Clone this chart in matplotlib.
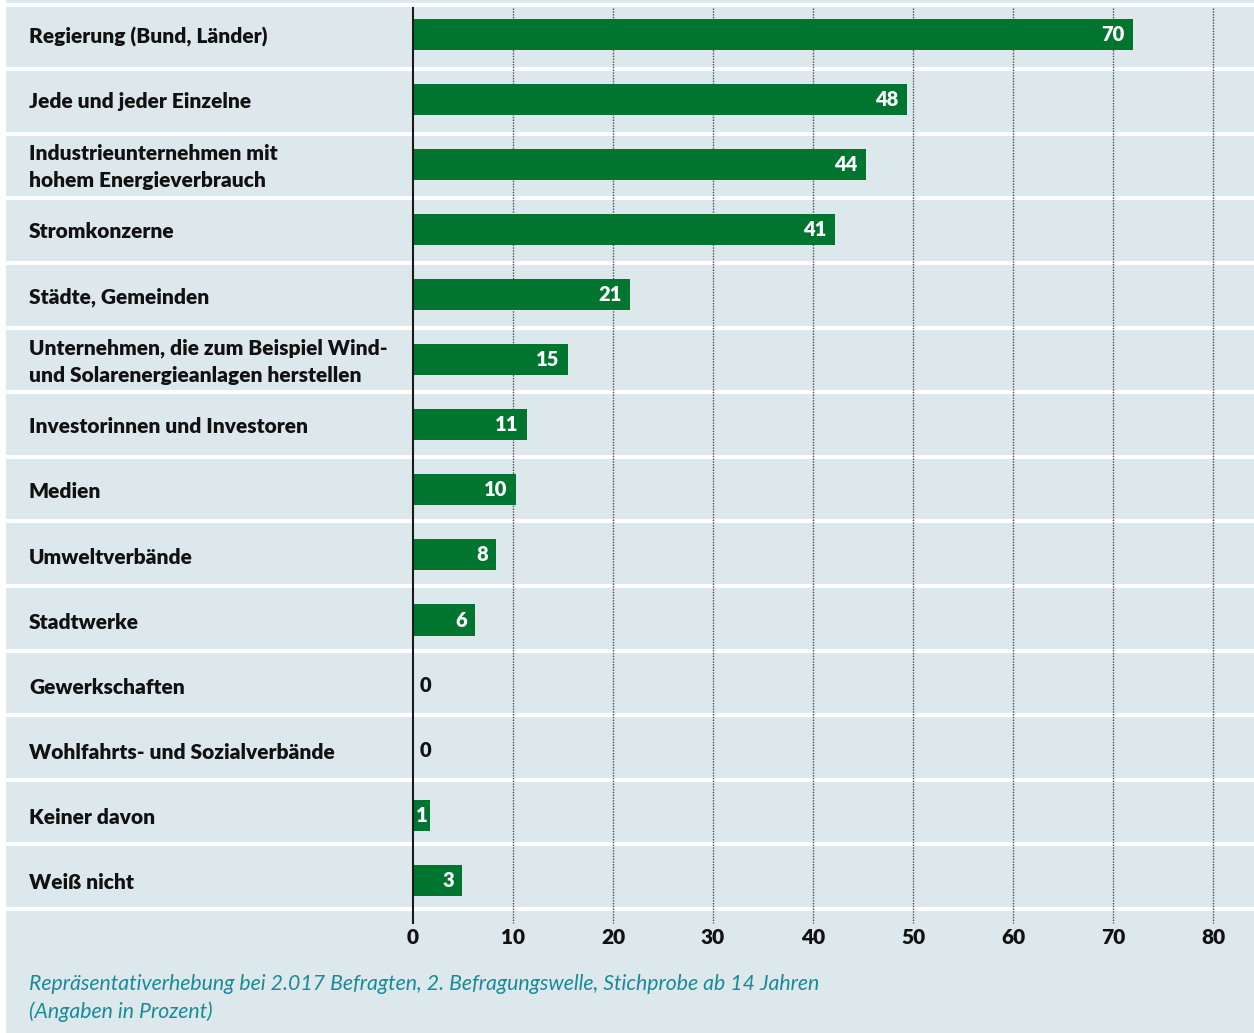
import matplotlib
matplotlib.use("Agg")
import matplotlib.pyplot as plt

categories = [
    "Regierung (Bund, Länder)",
    "Jede und jeder Einzelne",
    "Industrieunternehmen mit\nhohem Energieverbrauch",
    "Stromkonzerne",
    "Städte, Gemeinden",
    "Unternehmen, die zum Beispiel Wind-\nund Solarenergieanlagen herstellen",
    "Investorinnen und Investoren",
    "Medien",
    "Umweltverbände",
    "Stadtwerke",
    "Gewerkschaften",
    "Wohlfahrts- und Sozialverbände",
    "Keiner davon",
    "Weiß nicht",
]
bar_values = [72.0, 49.4, 45.3, 42.2, 21.7, 15.5, 11.4, 10.3, 8.3, 6.2, 0.0, 0.0, 1.7, 4.9]
value_labels = ["70", "48", "44", "41", "21", "15", "11", "10", "8", "6", "0", "0", "1", "3"]
x_ticks = [0, 10, 20, 30, 40, 50, 60, 70, 80]
caption = ("Repräsentativerhebung bei 2.017 Befragten, 2. Befragungswelle, Stichprobe ab 14 Jahren\n"
           "(Angaben in Prozent)")

BG = "#dce8ec"
GREEN = "#007530"
TEAL = "#1a8a96"
FONT = "Lato"
WEIGHT = "heavy"

W, H = 1254, 1033
fig = plt.figure(figsize=(W / 100, H / 100), dpi=100)
fig.patch.set_facecolor(BG)
# small white margin at left
fig.patches.append(plt.Rectangle((0, 0), 6 / W, 1, transform=fig.transFigure,
                                 facecolor="white", edgecolor="none", zorder=-10))

# axes: pixel x 6..1254, pixel y 4.5..908.9
top_px, bot_px = 4.5, 908.9
ax = fig.add_axes([6 / W, 1 - bot_px / H, 1 - 6 / W, (bot_px - top_px) / H])
ax.set_facecolor("none")
px_per_unit = 10.0
x_left = -(413 - 6) / px_per_unit
x_right = x_left + (W - 6) / px_per_unit
ax.set_xlim(x_left, x_right)
n = len(categories)
ax.set_ylim(n - 0.5, -0.5)
for s in ax.spines.values():
    s.set_visible(False)
ax.set_yticks([])

# row separators
for k in range(n + 1):
    ax.axhline(k - 0.5, color="white", lw=3, zorder=1, clip_on=False)

unit_px = (bot_px - top_px) / n
ext = (923 - bot_px) / unit_px
top_ext = -0.5 + 3 / unit_px
# dotted grid lines
for t in x_ticks[1:]:
    ax.plot([t, t], [top_ext, n - 0.5 + ext], color="#4d4d4d", lw=1.0,
            ls=(0, (1, 1)), zorder=2, clip_on=False)
# axis line at 0
ax.plot([0, 0], [top_ext, n - 0.5 + ext], color="#1a1a1a", lw=1.5, zorder=4, clip_on=False)

# bar centres drift slightly relative to the row bands in the original
ypos = [-0.036 + 1.0071 * i for i in range(n)]
ax.barh(ypos, bar_values, height=0.48, color=GREEN, zorder=3, left=0)

for y, v, lab in zip(ypos, bar_values, value_labels):
    kw = dict(fontsize=14.5, fontweight=WEIGHT, family=FONT, zorder=5, va="center")
    if v <= 0:
        ax.annotate(lab, (0, y), xytext=(4.5, 0), textcoords="offset points",
                    ha="left", color="#111111", **kw)
    elif v < 3:
        ax.text(v / 2, y, lab, ha="center", color="white", **kw)
    else:
        ax.annotate(lab, (v, y), xytext=(-6, 0), textcoords="offset points",
                    ha="right", color="white", **kw)

# category labels
for y, c in zip(ypos, categories):
    ax.annotate(c, (x_left + (29 - 6) / px_per_unit, y), xytext=(0, -1.5),
                textcoords="offset points", ha="left", va="center",
                fontsize=15, fontweight=WEIGHT, family=FONT, color="#111111",
                linespacing=1.5, zorder=5)

# x tick labels
ax.set_xticks(x_ticks)
ax.set_xticklabels([str(t) for t in x_ticks], fontweight=WEIGHT, family=FONT,
                   fontsize=15, color="#111111")
ax.tick_params(axis="x", length=0, pad=13.5)

fig.text(29 / W, 1 - 998 / H, caption, ha="left", va="center", fontsize=15.3,
         style="italic", family=FONT, color=TEAL, linespacing=1.5)

fig.savefig("out.png", dpi=100, facecolor=fig.get_facecolor())
